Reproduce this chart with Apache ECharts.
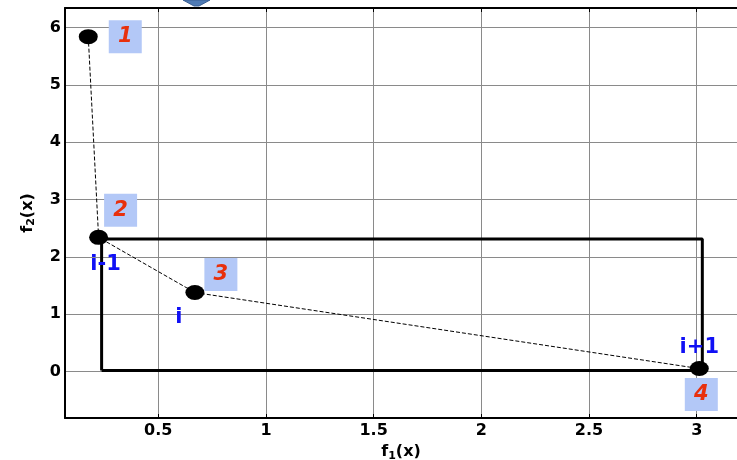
<!DOCTYPE html>
<html>
<head>
<meta charset="utf-8">
<script src="https://cdn.jsdelivr.net/npm/echarts@6/dist/echarts.min.js"></script>
<style>
html,body{margin:0;padding:0;background:#fff;}
#chart{width:737px;height:460px;}
</style>
</head>
<body>
<div id="chart"></div>
<script>
// ---- data ----
const f1Values = [0.175, 0.223, 0.670, 3.012];
const f2Values = [5.84, 2.34, 1.378, 0.052];
const pointNames = ['1', '2', '3', '4'];
const roleNames = ['', 'i-1', 'i', 'i+1'];
const boxF1 = [0.237, 3.026];
const boxF2 = [0.02, 2.31];
const xRange = [0.067, 3.187];
const yRange = [-0.81, 6.34];

// ---- styling (not data) ----
const nameOffsets = [[37, 0], [22, -27], [26, -18], [2, 26]];
const roleOffsets = [[0, 0], [7, 27], [-16, 25], [0, -21]];
const FONT = 'DejaVu Sans';

const points = f1Values.map((x, i) => ({
  value: [x, f2Values[i]],
  label: {
    show: true,
    formatter: pointNames[i],
    position: 'inside',
    offset: nameOffsets[i],
    color: '#e8300c',
    opacity: 1,
    fontFamily: FONT,
    fontWeight: 'bold',
    fontStyle: 'italic',
    fontSize: 21,
    backgroundColor: '#b3c8f7',
    width: 33,
    height: 33,
    lineHeight: 33,
    align: 'center',
    verticalAlign: 'middle'
  }
}));

const roles = f1Values.map((x, i) => ({
  value: [x, f2Values[i]],
  label: {
    show: roleNames[i] !== '',
    formatter: roleNames[i],
    position: 'inside',
    offset: roleOffsets[i],
    color: '#1010f5',
    opacity: 1,
    fontFamily: FONT,
    fontWeight: 'bold',
    fontSize: 21
  }
}));

const rect = [
  [boxF1[0], boxF2[0]], [boxF1[1], boxF2[0]], [boxF1[1], boxF2[1]],
  [boxF1[0], boxF2[1]], [boxF1[0], boxF2[0]]
];

const chart = echarts.init(document.getElementById('chart'));
chart.setOption({
  animation: false,
  backgroundColor: '#fff',
  grid: { left: 65, top: 8, right: 0, bottom: 42, containLabel: false, outerBoundsMode: 'none' },
  graphic: [{
    type: 'polygon',
    shape: { points: [[183, 0], [210, 0], [199, 6], [194, 6]] },
    style: { fill: '#4f7bb5', stroke: '#3a5f92', lineWidth: 1 },
    z: 100
  }],
  xAxis: [{
    type: 'value',
    min: xRange[0], max: xRange[1],
    minInterval: 0.5, maxInterval: 0.5,
    name: '{f|f}{s|1}{f|(x)}',
    nameLocation: 'middle',
    nameGap: 23,
    nameTextStyle: {
      rich: {
        f: { fontFamily: FONT, fontWeight: 'bold', fontSize: 16, color: '#000' },
        s: { fontFamily: FONT, fontWeight: 'bold', fontSize: 11, color: '#000', verticalAlign: 'bottom', padding: [8, 0, 0, 0] }
      }
    },
    axisLine: { show: true, onZero: false, lineStyle: { color: '#000', width: 2 } },
    axisTick: { show: true, inside: true, length: 4, lineStyle: { color: '#000' } },
    axisLabel: {
      showMinLabel: false, showMaxLabel: false, margin: 5,
      color: '#000', fontFamily: FONT, fontWeight: 'bold', fontSize: 16
    },
    splitLine: { show: true, lineStyle: { color: '#8a8a8a', width: 1 } }
  }, {
    type: 'value',
    position: 'top',
    min: xRange[0], max: xRange[1],
    minInterval: 0.5, maxInterval: 0.5,
    axisLine: { show: true, onZero: false, lineStyle: { color: '#000', width: 2 } },
    axisTick: { show: true, inside: true, length: 4, lineStyle: { color: '#000' } },
    axisLabel: { show: false },
    splitLine: { show: false }
  }],
  yAxis: {
    type: 'value',
    min: yRange[0], max: yRange[1],
    minInterval: 1, maxInterval: 1,
    name: '{f|f}{s|2}{f|(x)}',
    nameLocation: 'middle',
    nameGap: 28,
    nameRotate: 90,
    nameTextStyle: {
      rich: {
        f: { fontFamily: FONT, fontWeight: 'bold', fontSize: 16, color: '#000' },
        s: { fontFamily: FONT, fontWeight: 'bold', fontSize: 11, color: '#000', verticalAlign: 'bottom', padding: [8, 0, 0, 0] }
      }
    },
    axisLine: { show: true, onZero: false, lineStyle: { color: '#000', width: 2 } },
    axisTick: { show: false },
    axisLabel: {
      showMinLabel: false, showMaxLabel: false, margin: 4,
      color: '#000', fontFamily: FONT, fontWeight: 'bold', fontSize: 16
    },
    splitLine: { show: true, lineStyle: { color: '#8a8a8a', width: 1 } }
  },
  series: [{
    type: 'line',
    data: rect,
    symbol: 'none',
    lineStyle: { color: '#000', width: 3 },
    z: 3
  }, {
    type: 'line',
    data: f1Values.map((x, i) => [x, f2Values[i]]),
    symbol: 'none',
    lineStyle: { color: '#000', width: 1, type: [4, 2] },
    z: 4
  }, {
    type: 'scatter',
    data: points,
    symbol: 'circle',
    symbolSize: [19, 15],
    itemStyle: { color: '#000', opacity: 1 },
    z: 6
  }, {
    type: 'scatter',
    data: roles,
    symbolSize: 0,
    itemStyle: { opacity: 1 },
    z: 7
  }]
});
</script>
</body>
</html>
